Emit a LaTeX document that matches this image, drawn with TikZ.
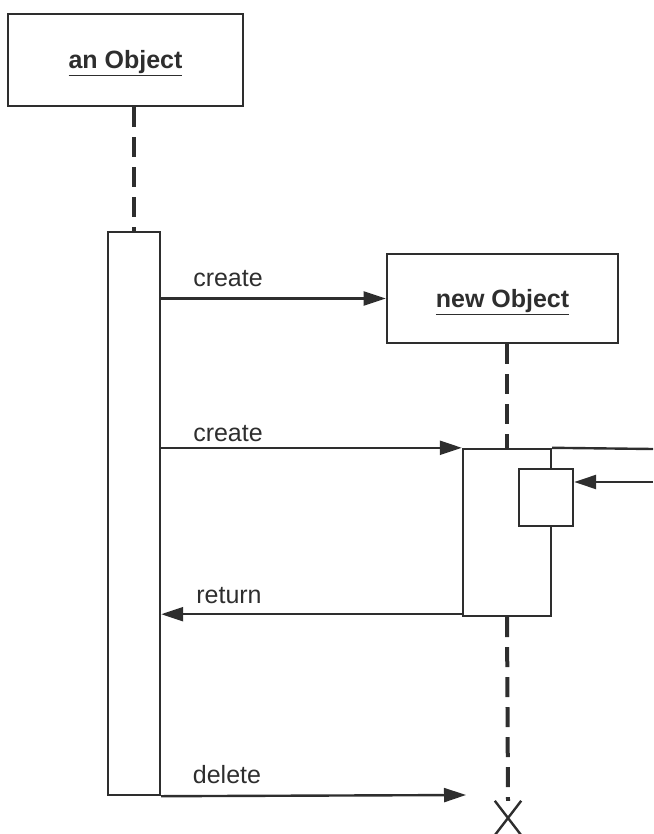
\documentclass[tikz,border=0pt]{standalone}
\usepackage{fontspec}
\setmainfont{Liberation Sans}
\usetikzlibrary{arrows.meta,shapes.misc}
\definecolor{ink}{HTML}{2E2E2E}
\tikzset{
  objbox/.style={draw=ink, line width=2.6pt, fill=white, inner sep=0pt},
  actbar/.style={draw=ink, line width=2.4pt, fill=white, inner sep=0pt},
  lifeline/.style={draw=ink, line width=4pt, dash pattern=on 20pt off 10pt},
  msg/.style={draw=ink, line width=2.4pt, -{Triangle[length=22pt,width=14pt]}},
  plain/.style={draw=ink, line width=2.4pt},
  msglabel/.style={text=ink, font=\fontsize{25}{30}\selectfont, inner sep=0pt},
  objlabel/.style={text=ink, font=\fontsize{25}{30}\selectfont\bfseries,
                   text height=18pt, text depth=0pt},
}
\begin{document}
\begin{tikzpicture}[x=1pt, y=-1pt]
  \useasboundingbox (0,0) rectangle (653,834);

  % object headers
  \node[objbox, minimum width=235pt, minimum height=92pt] (obj) at (125.5,60)
    [objlabel] {\underline{an Object}};
  \node[objbox, minimum width=231pt, minimum height=89pt] (newobj) at (502.5,298.5)
    [objlabel] {\underline{new Object}};

  % activation bars
  \node[actbar, minimum width=52pt, minimum height=563pt] (act1) at (134,513.5) {};
  \node[actbar, minimum width=88pt, minimum height=167pt] (act2) at (507,532.5) {};
  \node[actbar, minimum width=54pt, minimum height=57pt] (self) at (546,497.5) {};

  % lifelines
  \draw[lifeline] (obj.south -| act1.north) -- (act1.north);
  \draw[lifeline] (newobj.south -| act2.north) -- (act2.north);
  \node[draw=ink, cross out, line width=2.4pt, minimum width=24pt, minimum height=32pt,
        inner sep=0pt] (end) at (508,818) {};
  \draw[lifeline] (act2.south) -- (end.north);

  % outgoing line at the top of the second activation and the incoming call
  \coordinate (outR) at (653,449);
  \coordinate (inR) at (653,482);
  \draw[plain] (act2.north east) -- (outR);
  \draw[msg] (inR) -- (self.east |- inR);

  % messages
  \coordinate (delEnd) at (466,795);
  \draw[msg] (act1.east |- newobj.west) -- (newobj.west);
  \draw[msg] (act1.east |- act2.north west) -- (act2.north west);
  \draw[msg] ([yshift=3pt]act2.south west) -- ([yshift=3pt]act1.east |- act2.south west);
  \draw[msg] (act1.south east) -- (delEnd);

  % message labels
  \node[msglabel] (l1) at (228,279) {create};
  \node[msglabel] (l2) at (228,434) {create};
  \node[msglabel] (l3) at (229,596) {return};
  \node[msglabel] (l4) at (227,775) {delete};
\end{tikzpicture}
\end{document}
